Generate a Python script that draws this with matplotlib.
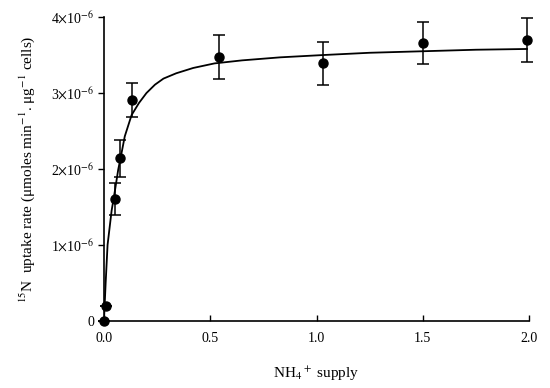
import numpy as np
import matplotlib
matplotlib.use("Agg")
import matplotlib.pyplot as plt

plt.rcParams['font.family'] = ['Liberation Serif', 'DejaVu Serif']
plt.rcParams['mathtext.fontset'] = 'stix'

# measured points (NH4+ supply vs 15N uptake rate)
supply = [0.0, 0.008, 0.05, 0.077, 0.133, 0.54, 1.03, 1.5, 1.99]
uptake = [0.0, 0.19, 1.61, 2.14, 2.91, 3.47, 3.39, 3.66, 3.70]
err = [0.0, 0.0, 0.21, 0.24, 0.22, 0.29, 0.28, 0.28, 0.29]

# fitted curve
fit_x = [0.0, 0.008, 0.017, 0.036, 0.052, 0.067, 0.08, 0.098, 0.13, 0.165,
         0.2, 0.24, 0.28, 0.34, 0.42, 0.52, 0.65, 0.83, 1.03, 1.25, 1.5,
         1.75, 1.99]
fit_y = [0.0, 0.5, 1.0, 1.45, 1.72, 1.99, 2.17, 2.43, 2.71, 2.87,
         3.0, 3.11, 3.19, 3.26, 3.33, 3.39, 3.43, 3.47, 3.50, 3.53, 3.55,
         3.57, 3.58]

yticks = [0, 1, 2, 3, 4]
ytick_labels = ['0', r'1$\times$10$^{-6}$', r'2$\times$10$^{-6}$',
                r'3$\times$10$^{-6}$', r'4$\times$10$^{-6}$']
xticks = [0.0, 0.5, 1.0, 1.5, 2.0]
xtick_labels = ['0.0', '0.5', '1.0', '1.5', '2.0']

fig = plt.figure(figsize=(5.5, 3.88), dpi=100)
ax = fig.add_axes([0.189, 0.173, 0.773, 0.783])

ax.plot(fit_x, fit_y, color='black', lw=1.3, zorder=2)
ax.errorbar(supply, uptake, yerr=err, fmt='o', color='black', ms=6.5,
            capsize=4.5, elinewidth=1.1, capthick=1.1, zorder=3, clip_on=False)

ax.set_xlim(0, 2.0)
ax.set_ylim(0, 4)
ax.spines['top'].set_visible(False)
ax.spines['right'].set_visible(False)
ax.spines['left'].set_linewidth(1.2)
ax.spines['bottom'].set_linewidth(1.2)

ax.set_yticks(yticks)
ax.set_yticklabels(ytick_labels, fontsize=10)
ax.set_xticks(xticks)
ax.set_xticklabels(xtick_labels, fontsize=10)
ax.tick_params(axis='y', direction='out', length=4, width=1, pad=3)
ax.tick_params(axis='x', direction='in', length=4, width=1, pad=8)

ax.set_xlabel(r'NH$_4$$^+$ supply', fontsize=11, labelpad=14)
ax.set_ylabel('$^{15}$N  uptake rate (μmoles min$^{-1}$. μg$^{-1}$ cells)',
              fontsize=11, labelpad=10)

fig.savefig('out.png', dpi=100)
